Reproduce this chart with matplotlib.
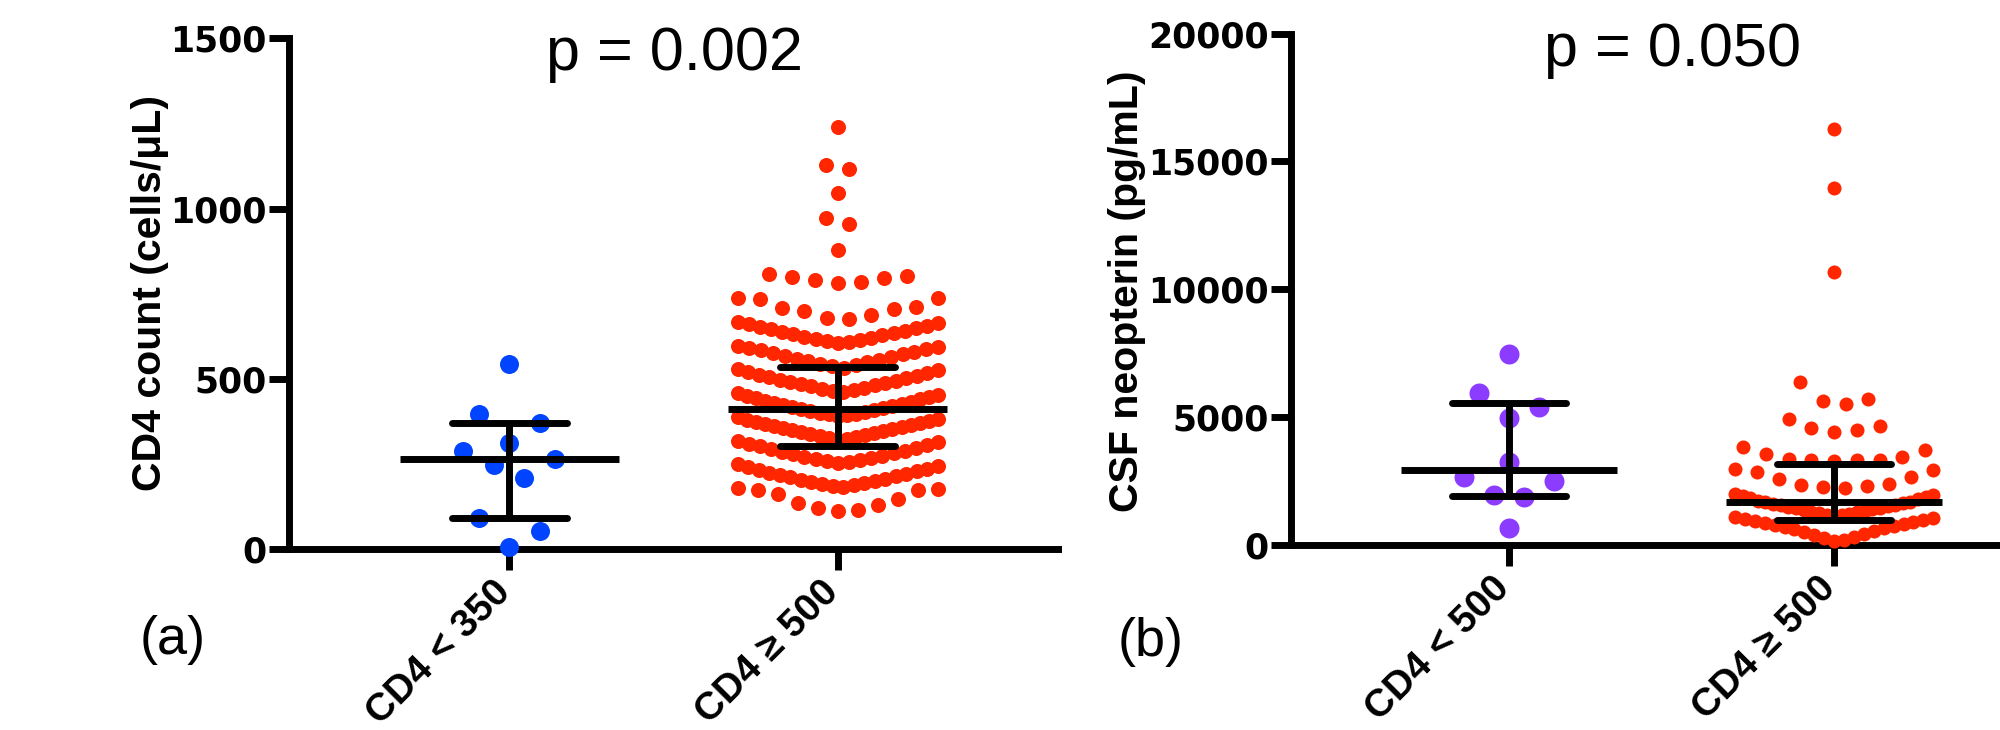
import numpy as np
import matplotlib
matplotlib.use('Agg')
import matplotlib.pyplot as plt
from matplotlib.transforms import ScaledTranslation

# ---- panel (a): CD4 count ----
groups_a = ['CD4 < 350', 'CD4 ≥ 500']
cd4_low = [6, 54, 91, 208, 248, 266, 289, 311, 371, 398, 543]
cd4_high = [
    112, 114, 122, 130, 136, 147, 161, 173, 175, 177, 179,
    183, 185, 188, 192, 194, 197, 201, 204, 207, 211, 214, 218, 221, 225, 229, 233, 237, 241, 245, 249,
    252, 255, 258, 262, 265, 268, 272, 275, 279, 283, 286, 290, 294, 298, 302, 306, 310, 314, 318,
    322, 324, 327, 330, 332, 335, 338, 341, 344, 347, 350, 353, 356, 359, 362, 365, 368, 371, 374, 377, 381, 384, 388,
    391, 393, 396, 398, 401, 404, 406, 409, 412, 415, 418, 421, 424, 427, 430, 433, 436, 440, 443, 446, 450, 454, 458,
    462, 465, 468, 471, 474, 478, 481, 484, 488, 491, 495, 498, 502, 505, 509, 513, 517, 521, 525, 528,
    533, 537, 541, 545, 549, 553, 556, 560, 564, 568, 572, 576, 580, 584, 588, 592, 595, 598,
    605, 608, 611, 614, 618, 621, 624, 628, 631, 635, 639, 642, 646, 650, 654, 657, 661, 664, 667,
    677, 680, 687, 699, 704, 709, 711, 736, 738, 739,
    782, 786, 790, 796, 799, 802, 807,
    880, 956, 973, 1046, 1115, 1129, 1239]
# median and interquartile range
stats_a = [(266, 91, 372), (412, 303, 534)]
p_a = 'p = 0.002'

# ---- panel (b): CSF neopterin ----
groups_b = ['CD4 < 500', 'CD4 ≥ 500']
neo_low = [651, 1860, 1950, 2496, 2664, 3249, 4980, 5394, 5940, 7476]
neo_high = [
    150, 200, 260, 330, 390, 450, 510, 560, 610, 660, 700, 750, 790, 830, 870, 910, 950, 990, 1030, 1060, 1090,
    1130, 1160, 1190, 1220, 1250, 1280, 1310, 1340, 1370, 1400, 1430, 1460, 1490, 1520, 1550, 1580, 1610,
    1640, 1670, 1700, 1740, 1780, 1820, 1860, 1900, 1950, 2000,
    2210, 2250, 2300, 2340, 2370, 2600, 2640, 2860, 2950, 2990,
    3300, 3310, 3320, 3340, 3360, 3445, 3575, 3705, 3835,
    4419, 4485, 4590, 4653, 4914,
    5526, 5628, 5694, 6390,
    10670, 13960, 16270]
stats_b = [(2950, 1920, 5550), (1670, 978, 3170)]
p_b = 'p = 0.050'


def swarm_x(vals, center, width, origin, step, maxhalf=0.305):
    # graphpad style: bin the values, spread each bin out from the centre
    vals = np.asarray(vals, float)
    xs = np.zeros_like(vals)
    bins = np.floor((vals - origin) / width)
    for b in np.unique(bins):
        idx = np.where(bins == b)[0]
        idx = idx[np.argsort(vals[idx])]
        n = len(idx)
        d = step if n < 2 else min(step, 2 * maxhalf / (n - 1))
        for k, i in enumerate(idx):
            if n % 2:
                slot = ((k + 1) // 2) * (1 if k % 2 else -1)
            else:
                slot = (k // 2 + 0.5) * (1 if k % 2 == 0 else -1)
            xs[i] = center + slot * d
    return xs


def median_bars(ax, x, med, q1, q3):
    lw = 5
    ax.plot([x - 0.333, x + 0.333], [med, med], color='black', lw=lw, solid_capstyle='butt', zorder=5)
    ax.plot([x, x], [q1, q3], color='black', lw=lw, solid_capstyle='butt', zorder=5)
    for q in (q1, q3):
        ax.plot([x - 0.175, x + 0.175], [q, q], color='black', lw=lw, solid_capstyle='round', zorder=5)


def style_axes(ax, yticks, labels, xmax):
    for s in ['top', 'right']:
        ax.spines[s].set_visible(False)
    for s in ['left', 'bottom']:
        ax.spines[s].set_linewidth(5)
        ax.spines[s].set_capstyle('projecting')
    ax.set_xlim(-0.67, xmax)
    ax.set_ylim(0, yticks[-1])
    ax.set_yticks(yticks)
    ax.set_yticklabels([str(t) for t in yticks], fontfamily='DejaVu Sans', fontweight='bold', fontsize=25)
    ax.tick_params(axis='y', length=14.4, width=5, pad=1.5)
    ax.set_xticks([0, 1])
    ax.set_xticklabels(labels, rotation=45, ha='right', va='top',
                       fontfamily='Liberation Sans', fontweight='bold', fontsize=28)
    ax.tick_params(axis='x', length=15, width=5, pad=3)
    off = ScaledTranslation(6 / 72, 0, fig.dpi_scale_trans)
    for lab in ax.get_xticklabels():
        lab.set_transform(lab.get_transform() + off)
    ax.patch.set_visible(False)


fig = plt.figure(figsize=(20, 7.3), dpi=100)

# panel a
ax1 = fig.add_axes([0.1445, 0.2475, 0.3845, 0.70])
ax1.scatter(swarm_x(cd4_low, 0, 100, 0, 0.0927), cd4_low, s=187, color='#0044ff', linewidths=0, zorder=3, clip_on=False)
ax1.scatter(swarm_x(cd4_high, 1, 70, 40, 0.07), cd4_high, s=117, color='#ff2600', linewidths=0, zorder=3, clip_on=False)
for i, (m, lo, hi) in enumerate(stats_a):
    median_bars(ax1, i, m, lo, hi)
style_axes(ax1, [0, 500, 1000, 1500], groups_a, 1.67)

# panel b
ax2 = fig.add_axes([0.6455, 0.2534, 0.3545, 0.7007])
ax2.scatter(swarm_x(neo_low, 0, 1100, 550, 0.092), neo_low, s=207, color='#8c3cff', linewidths=0, zorder=3, clip_on=False)
ax2.scatter(swarm_x(neo_high, 1, 1100, 0, 0.07), neo_high, s=102, color='#ff2600', linewidths=0, zorder=3, clip_on=False)
for i, (m, lo, hi) in enumerate(stats_b):
    median_bars(ax2, i, m, lo, hi)
style_axes(ax2, [0, 5000, 10000, 15000, 20000], groups_b, 1.51)

W, H = 2000, 730
fig.text(150 / W, 1 - 293 / H, 'CD4 count (cells/μL)', rotation=90, ha='center', va='center',
         fontfamily='Liberation Sans', fontweight='bold', fontsize=29.5)
fig.text(1127 / W, 1 - 291 / H, 'CSF neopterin (pg/mL)', rotation=90, ha='center', va='center',
         fontfamily='Liberation Sans', fontweight='bold', fontsize=29.5)

fig.text(675 / W, 1 - 70 / H, p_a, ha='center', va='baseline', fontfamily='Liberation Sans', fontsize=44)
fig.text(1672 / W, 1 - 66 / H, p_b, ha='center', va='baseline', fontfamily='Liberation Sans', fontsize=44)

fig.text(173 / W, 1 - 640 / H, '(a)', ha='center', va='center', fontfamily='Liberation Sans', fontsize=39)
fig.text(1151 / W, 1 - 642 / H, '(b)', ha='center', va='center', fontfamily='Liberation Sans', fontsize=39)

fig.savefig('out.png', dpi=100)
